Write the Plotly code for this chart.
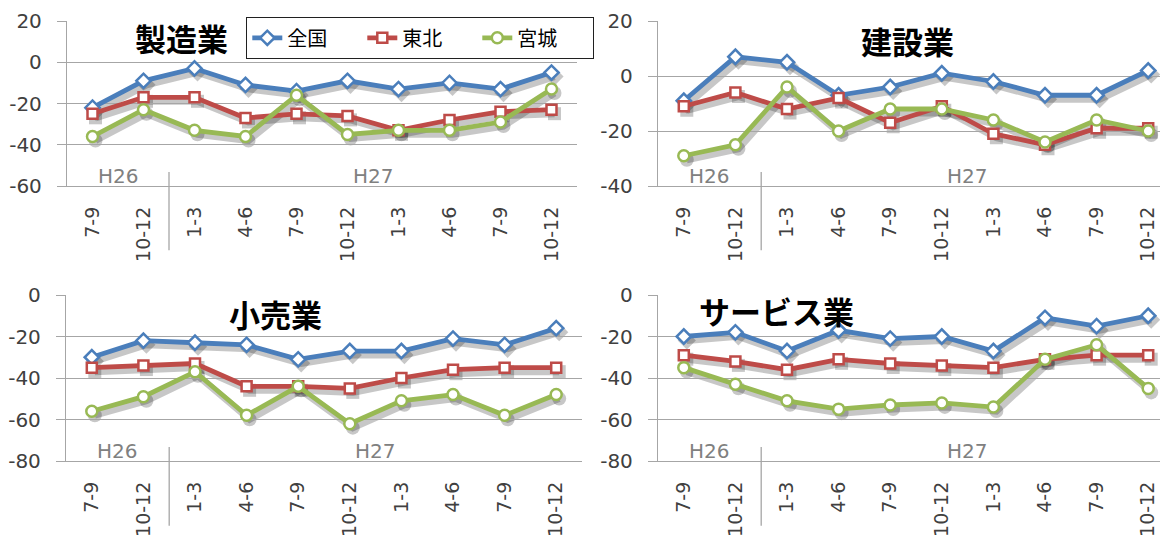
import plotly.graph_objects as go

# ---------------- data ----------------
quarters = ["7-9", "10-12", "1-3", "4-6", "7-9", "10-12", "1-3", "4-6", "7-9", "10-12"]
year_labels = ["H26", "H27"]
year_counts = [2, 8]

series_names = ["全国", "東北", "宮城"]

mfg_zenkoku = [-22, -9, -3, -11, -14, -9, -13, -10, -13, -5]
mfg_tohoku = [-25, -17, -17, -27, -25, -26, -33, -28, -24, -23]
mfg_miyagi = [-36, -23, -33, -36, -16, -35, -33, -33, -29, -13]

con_zenkoku = [-9, 7, 5, -7, -4, 1, -2, -7, -7, 2]
con_tohoku = [-11, -6, -12, -8, -17, -11, -21, -25, -19, -19]
con_miyagi = [-29, -25, -4, -20, -12, -12, -16, -24, -16, -20]

ret_zenkoku = [-30, -22, -23, -24, -31, -27, -27, -21, -24, -16]
ret_tohoku = [-35, -34, -33, -44, -44, -45, -40, -36, -35, -35]
ret_miyagi = [-56, -49, -37, -58, -44, -62, -51, -48, -58, -48]

svc_zenkoku = [-20, -18, -27, -17, -21, -20, -27, -11, -15, -10]
svc_tohoku = [-29, -32, -36, -31, -33, -34, -35, -31, -29, -29]
svc_miyagi = [-35, -43, -51, -55, -53, -52, -54, -31, -24, -45]

panel_titles = ["製造業", "建設業", "小売業", "サービス業"]
panel_yticks = [[20, 0, -20, -40, -60], [20, 0, -20, -40], [0, -20, -40, -60, -80], [0, -20, -40, -60, -80]]

panels = [
    [mfg_zenkoku, mfg_tohoku, mfg_miyagi],
    [con_zenkoku, con_tohoku, con_miyagi],
    [ret_zenkoku, ret_tohoku, ret_miyagi],
    [svc_zenkoku, svc_tohoku, svc_miyagi],
]

# ---------------- style / geometry ----------------
WIN_W, WIN_H = 1168, 537
OFF = 8                      # page body margin
FW, FH = WIN_W - OFF, WIN_H - OFF


def fx(px):
    return (px - OFF) / FW


def fy(py):
    return 1 - (py - OFF) / FH


colors = ["#4A7EBB", "#BE4B48", "#98B954"]
symbols = ["diamond", "square", "circle"]
msizes = [11, 10, 11]
grid = "#A6A6A6"
tick_color = "#404040"
NFONT = "DejaVu Sans, sans-serif"
JFONT = "Noto Sans CJK JP, sans-serif"

# panel geometry in window pixels: (left, right, top, bottom, cropped_right)
geom = [
    (67, 577, 21, 186, False),
    (658, 1168, 21, 186, True),
    (66, 582, 295, 461, False),
    (658, 1168, 295, 461, True),
]
title_pos = [(181, 38), (907, 40), (275, 313), (776, 310)]
slot_crop = 51.6
SHX, SHY = 3, 4  # shadow offset in px

fig = go.Figure()
layout = dict(
    width=FW, height=FH, autosize=False,
    margin=dict(l=0, r=0, t=0, b=0, pad=0),
    paper_bgcolor="white", plot_bgcolor="rgba(0,0,0,0)",
    font=dict(family=NFONT, size=20, color=tick_color),
    showlegend=True,
)

n = len(quarters)
xs = list(range(n))
annotations = []
shapes = []


def ax(i):
    return "" if i == 1 else str(i)


for p in range(4):
    left, right, top, bottom, cropped = geom[p]
    xmax = -0.5 + (right - left) / slot_crop if cropped else n - 0.5
    xr = [-0.5, xmax]
    yt = panel_yticks[p]
    yr = [min(yt), max(yt)]
    sid, mid = p + 1, p + 5
    sright = min(right + SHX, WIN_W)
    sxr = [-0.5, -0.5 + (sright - left - SHX) * (xr[1] + 0.5) / (right - left)]
    layout["xaxis" + ax(sid)] = dict(domain=[fx(left + SHX), fx(sright)], range=sxr, visible=False,
                                     anchor="y" + ax(sid), automargin=False)
    layout["yaxis" + ax(sid)] = dict(domain=[fy(bottom + SHY), fy(top + SHY)], range=yr, visible=False,
                                     anchor="x" + ax(sid), automargin=False)
    layout["xaxis" + ax(mid)] = dict(
        domain=[fx(left), fx(right)], range=xr, anchor="y" + ax(mid), automargin=False,
        tickmode="array", tickvals=xs, ticktext=quarters, tickangle=-90,
        ticks="", showgrid=False, zeroline=False,
        showline=True, linecolor=grid, linewidth=1.3,
        tickfont=dict(family=NFONT, size=19, color=tick_color),
        ticklabelstandoff=12,
    )
    layout["yaxis" + ax(mid)] = dict(
        domain=[fy(bottom), fy(top)], range=yr, anchor="x" + ax(mid), automargin=False,
        tickmode="array", tickvals=yt, ticktext=[str(v) for v in yt],
        ticks="outside", ticklen=9, tickcolor=grid, tickwidth=1.3,
        showgrid=True, gridcolor=grid, gridwidth=1.3, zeroline=False,
        showline=True, linecolor=grid, linewidth=1.3,
        tickfont=dict(family=NFONT, size=20, color=tick_color),
        ticklabelstandoff=11,
    )
    vals = panels[p]
    for s in range(3):
        fig.add_trace(go.Scatter(
            x=xs, y=vals[s], mode="lines+markers", showlegend=False, hoverinfo="skip",
            line=dict(color="rgba(0,0,0,0.22)", width=7),
            marker=dict(symbol=symbols[s], size=msizes[s] + 3, color="rgba(0,0,0,0.22)"),
            xaxis="x" + ax(sid), yaxis="y" + ax(sid), cliponaxis=False,
        ))
    for s in range(3):
        fig.add_trace(go.Scatter(
            x=xs, y=vals[s], mode="lines+markers", name=series_names[s],
            showlegend=(p == 0), legendrank=s,
            line=dict(color=colors[s], width=4.8),
            marker=dict(symbol=symbols[s], size=msizes[s], color="white",
                        line=dict(color=colors[s], width=2.5)),
            xaxis="x" + ax(mid), yaxis="y" + ax(mid), cliponaxis=False,
        ))
    start = 0
    for gi, (lab, cnt) in enumerate(zip(year_labels, year_counts)):
        center = start + (cnt - 1) / 2
        annotations.append(dict(
            x=center, y=0, xref="x" + ax(mid), yref="y" + ax(mid) + " domain",
            text=lab, showarrow=False, yanchor="bottom", yshift=-4,
            font=dict(family=NFONT, size=20, color="#808080"),
        ))
        if gi > 0:
            shapes.append(dict(
                type="line", xref="x" + ax(mid), yref="y" + ax(mid) + " domain",
                x0=start - 0.5, x1=start - 0.5, y0=-0.39, y1=0.085,
                line=dict(color=grid, width=1.3),
            ))
        start += cnt
    tx, ty = title_pos[p]
    annotations.append(dict(
        x=fx(tx), y=fy(ty), xref="paper", yref="paper", text="<b>" + panel_titles[p] + "</b>",
        showarrow=False, xanchor="center", yanchor="middle",
        font=dict(family=JFONT, size=31, color="black"),
    ))

layout["annotations"] = annotations
layout["shapes"] = shapes
layout["legend"] = dict(
    orientation="h", x=fx(246), y=fy(17), xanchor="left", yanchor="top",
    bgcolor="white", bordercolor="#202020", borderwidth=1.3,
    font=dict(family=JFONT, size=20, color="black"),
    entrywidth=70, entrywidthmode="pixels", traceorder="normal",
    tracegroupgap=0,
)
fig.update_layout(**layout)
fig.write_html("out.html")
